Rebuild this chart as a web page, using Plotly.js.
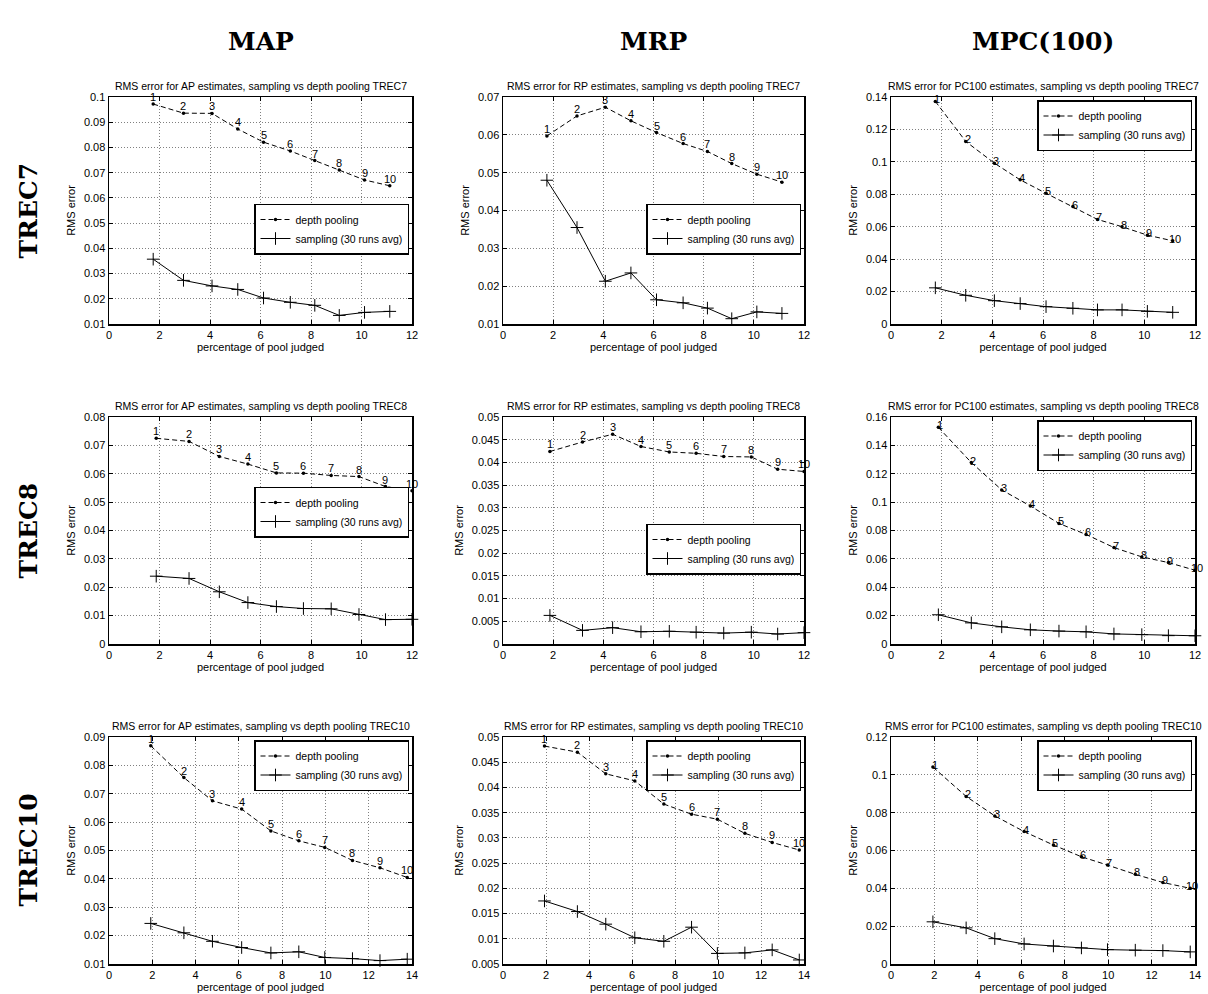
<!DOCTYPE html>
<html>
<head>
<meta charset="utf-8">
<script src="https://cdn.plot.ly/plotly-3.0.1.min.js"></script>
<style>html,body{margin:0;padding:0;background:#fff}#chart{width:1208px;height:994px}</style>
</head>
<body>
<div id="chart"></div>
<script>
// ---------------- DATA ----------------
const colHeaders = ['MAP', 'MRP', 'MPC(100)'];
const rowHeaders = ['TREC7', 'TREC8', 'TREC10'];
const measures = ['AP', 'RP', 'PC100'];
const depthLabels = ['1','2','3','4','5','6','7','8','9','10'];
const seriesNames = ['depth pooling', 'sampling (30 runs avg)'];

// percentage of pool judged (x) per collection
const pctTREC7  = [1.75, 2.95, 4.08, 5.1, 6.12, 7.18, 8.15, 9.12, 10.12, 11.12];
const pctTREC8  = [1.87, 3.17, 4.37, 5.5, 6.63, 7.7, 8.8, 9.9, 10.95, 12.0];
const pctTREC10 = [1.93, 3.46, 4.78, 6.13, 7.48, 8.77, 9.97, 11.25, 12.52, 13.78];

// TREC7
const depthAP_TREC7    = [0.0972, 0.0936, 0.0935, 0.0873, 0.0821, 0.0786, 0.0748, 0.0711, 0.0671, 0.0648];
const samplingAP_TREC7 = [0.0357, 0.0273, 0.0251, 0.0237, 0.0203, 0.0186, 0.0174, 0.0134, 0.0146, 0.0150];
const depthRP_TREC7    = [0.0597, 0.0650, 0.0673, 0.0637, 0.0606, 0.0577, 0.0556, 0.0524, 0.0496, 0.0475];
const samplingRP_TREC7 = [0.0480, 0.0355, 0.0213, 0.0235, 0.0164, 0.0156, 0.0142, 0.0114, 0.0132, 0.0128];
const depthPC_TREC7    = [0.1373, 0.1126, 0.0992, 0.0889, 0.0806, 0.0724, 0.0645, 0.0600, 0.0548, 0.0513];
const samplingPC_TREC7 = [0.0223, 0.0177, 0.0144, 0.0126, 0.0107, 0.0097, 0.0087, 0.0087, 0.0078, 0.0072];
// TREC8
const depthAP_TREC8    = [0.0725, 0.0714, 0.0661, 0.0634, 0.0603, 0.0602, 0.0594, 0.0590, 0.0555, 0.0540];
const samplingAP_TREC8 = [0.0239, 0.0231, 0.0184, 0.0146, 0.0132, 0.0125, 0.0124, 0.0104, 0.0086, 0.0087];
const depthRP_TREC8    = [0.0424, 0.0445, 0.0462, 0.0435, 0.0423, 0.0420, 0.0413, 0.0412, 0.0385, 0.0380];
const samplingRP_TREC8 = [0.0063, 0.0030, 0.0036, 0.0027, 0.0028, 0.0026, 0.0024, 0.0026, 0.0022, 0.0025];
const depthPC_TREC8    = [0.1527, 0.1279, 0.1086, 0.0973, 0.0850, 0.0772, 0.0680, 0.0614, 0.0574, 0.0520];
const samplingPC_TREC8 = [0.0206, 0.0149, 0.0121, 0.0100, 0.0091, 0.0086, 0.0071, 0.0066, 0.0059, 0.0058];
// TREC10
const depthAP_TREC10    = [0.0869, 0.0757, 0.0675, 0.0646, 0.0569, 0.0534, 0.0511, 0.0465, 0.0439, 0.0405];
const samplingAP_TREC10 = [0.0243, 0.0210, 0.0180, 0.0158, 0.0139, 0.0143, 0.0123, 0.0119, 0.0112, 0.0117];
const depthRP_TREC10    = [0.0482, 0.0470, 0.0427, 0.0413, 0.0367, 0.0347, 0.0337, 0.0309, 0.0291, 0.0276];
const samplingRP_TREC10 = [0.0175, 0.0154, 0.0129, 0.0102, 0.0095, 0.0123, 0.0071, 0.0072, 0.0078, 0.0058];
const depthPC_TREC10    = [0.1041, 0.0886, 0.0783, 0.0700, 0.0629, 0.0567, 0.0523, 0.0474, 0.0431, 0.0400];
const samplingPC_TREC10 = [0.0223, 0.0191, 0.0134, 0.0106, 0.0095, 0.0085, 0.0076, 0.0073, 0.0071, 0.0064];

// ---------------- LAYOUT / DRAW ----------------
const W = 1208, H = 994;
const FONT = 'Liberation Sans, Arial, Helvetica, sans-serif';
const SERIF = 'DejaVu Serif, Liberation Serif, serif';

const colPx = [[109, 412], [503, 804], [891, 1195]];
const rowPx = [[97, 324], [417, 644], [737, 964]];

const pctByRow = [pctTREC7, pctTREC8, pctTREC10];
const depthGrid = [
  [depthAP_TREC7, depthRP_TREC7, depthPC_TREC7],
  [depthAP_TREC8, depthRP_TREC8, depthPC_TREC8],
  [depthAP_TREC10, depthRP_TREC10, depthPC_TREC10]
];
const sampGrid = [
  [samplingAP_TREC7, samplingRP_TREC7, samplingPC_TREC7],
  [samplingAP_TREC8, samplingRP_TREC8, samplingPC_TREC8],
  [samplingAP_TREC10, samplingRP_TREC10, samplingPC_TREC10]
];
const yRanges = [
  [[0.01, 0.1, 0.01], [0.01, 0.07, 0.01], [0, 0.14, 0.02]],
  [[0, 0.08, 0.01], [0, 0.05, 0.005], [0, 0.16, 0.02]],
  [[0.01, 0.09, 0.01], [0.005, 0.05, 0.005], [0, 0.12, 0.02]]
];
const xMax = [12, 12, 14];
// legend vertical placement (px): null => top-right
const legendMid = [[229, 229, null], [512, 549, null], [null, null, null]];

const traces = [];
const annotations = [];
const layout = {
  width: W, height: H,
  margin: {l: 0, r: 0, t: 0, b: 0},
  paper_bgcolor: 'white', plot_bgcolor: 'white',
  font: {family: FONT, color: 'black', size: 11},
  showlegend: true,
  annotations: annotations
};

for (let r = 0; r < 3; r++) {
  for (let c = 0; c < 3; c++) {
    const i = r * 3 + c;
    const sfx = i === 0 ? '' : String(i + 1);
    const xa = 'x' + sfx, ya = 'y' + sfx;
    const legName = 'legend' + sfx;
    const xd = [colPx[c][0] / W, colPx[c][1] / W];
    const yd = [1 - rowPx[r][1] / H, 1 - rowPx[r][0] / H];
    const [y0, y1, dy] = yRanges[r][c];

    const axCommon = {
      showgrid: true, gridcolor: '#808080', griddash: '1px,2px', gridwidth: 1,
      zeroline: false, showline: true, linecolor: 'black', linewidth: 1.5,
      mirror: 'ticks', ticks: 'inside', ticklen: 4, tickcolor: 'black', tickwidth: 1,
      tickfont: {family: FONT, size: 11, color: 'black'}
    };
    layout['xaxis' + sfx] = Object.assign({}, axCommon, {
      domain: xd, anchor: ya, range: [0, xMax[r]], tick0: 0, dtick: 2,
      title: {text: 'percentage of pool judged', font: {family: FONT, size: 11}, standoff: 2}
    });
    layout['yaxis' + sfx] = Object.assign({}, axCommon, {
      domain: yd, anchor: xa, range: [y0, y1], tick0: 0, dtick: dy,
      title: {text: 'RMS error', font: {family: FONT, size: 11}, standoff: 6}
    });

    const xs = pctByRow[r];
    traces.push({
      type: 'scatter', mode: 'lines+markers', x: xs, y: depthGrid[r][c],
      xaxis: xa, yaxis: ya, name: seriesNames[0], legend: legName,
      line: {color: 'black', width: 1, dash: '5px,3px'},
      marker: {color: 'black', size: 3.5, symbol: 'circle'},
      cliponaxis: false
    });
    traces.push({
      type: 'scatter', mode: 'lines+markers', x: xs, y: sampGrid[r][c],
      xaxis: xa, yaxis: ya, name: seriesNames[1], legend: legName,
      line: {color: 'black', width: 1},
      marker: {color: 'black', size: 9, symbol: 'cross-thin', line: {width: 1, color: 'black'}},
      cliponaxis: false
    });

    // point labels for depth pooling
    for (let k = 0; k < xs.length; k++) {
      annotations.push({
        x: xs[k], y: depthGrid[r][c][k], xref: xa, yref: ya,
        text: depthLabels[k], showarrow: false,
        xanchor: 'center', yanchor: c === 2 ? 'middle' : 'bottom',
        xshift: c === 2 ? 2 : 0, yshift: c === 2 ? 2 : -1,
        font: {family: FONT, size: 11, color: 'black'}
      });
    }

    // subplot title
    annotations.push({
      x: 0.5, y: 1, xref: xa + ' domain', yref: ya + ' domain',
      xanchor: 'center', yanchor: 'bottom', yshift: 3, showarrow: false,
      text: 'RMS error for ' + measures[c] + ' estimates, sampling vs depth pooling ' + rowHeaders[r],
      font: {family: FONT, size: 10.5, color: 'black'}
    });

    // legend
    const lm = legendMid[r][c];
    layout[legName] = {
      x: (colPx[c][1] - 3) / W, xanchor: 'right',
      y: lm === null ? 1 - (rowPx[r][0] + 3) / H : 1 - lm / H,
      yanchor: lm === null ? 'top' : 'middle',
      bgcolor: 'white', bordercolor: 'black', borderwidth: 1.5,
      font: {family: FONT, size: 10.5, color: 'black'},
      itemwidth: 30, tracegroupgap: 0
    };
  }
}

// column headers
for (let c = 0; c < 3; c++) {
  annotations.push({
    x: (colPx[c][0] + colPx[c][1]) / 2 / W, y: 1 - 42 / H, xref: 'paper', yref: 'paper',
    xanchor: 'center', yanchor: 'middle', showarrow: false,
    text: '<b>' + colHeaders[c] + '</b>',
    font: {family: SERIF, size: 25, color: 'black'}
  });
}
// row headers
for (let r = 0; r < 3; r++) {
  annotations.push({
    x: 28 / W, y: 1 - (rowPx[r][0] + rowPx[r][1]) / 2 / H, xref: 'paper', yref: 'paper',
    xanchor: 'center', yanchor: 'middle', showarrow: false, textangle: -90,
    text: '<b>' + rowHeaders[r] + '</b>',
    font: {family: SERIF, size: 25, color: 'black'}
  });
}

Plotly.newPlot('chart', traces, layout, {staticPlot: true, displayModeBar: false});
</script>
</body>
</html>
